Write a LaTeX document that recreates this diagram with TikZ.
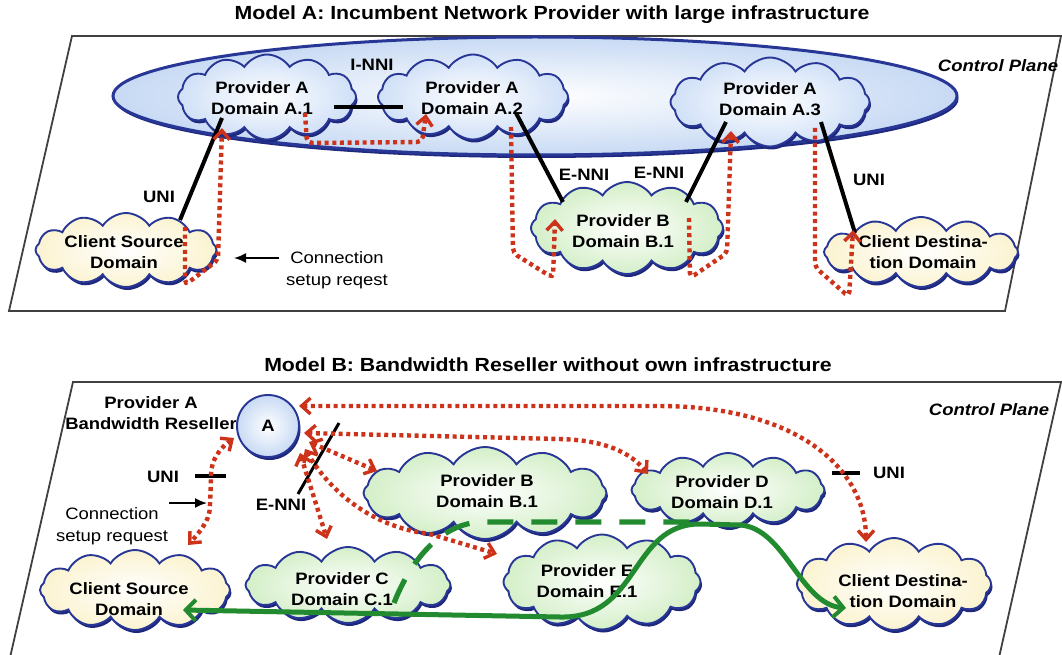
\documentclass[tikz,border=0pt]{standalone}
\usepackage{fontspec}
\setmainfont{Liberation Sans}[FakeStretch=1.12]
\usetikzlibrary{shapes.symbols,shapes.geometric,shadows,arrows.meta}
\definecolor{redc}{RGB}{204,51,26}
\definecolor{greenc}{RGB}{34,139,48}
\definecolor{cloudline}{RGB}{40,55,150}
\definecolor{shadowc}{RGB}{30,40,125}
\definecolor{ellfill}{RGB}{200,218,244}
\definecolor{bluefill}{RGB}{208,224,247}
\definecolor{greenfill}{RGB}{212,239,200}
\definecolor{yellowfill}{RGB}{251,243,208}
\tikzset{
  RedBarb/.tip={Straight Barb[length=9pt,width=16pt,line width=3.4pt]},
  GreenBarb/.tip={Straight Barb[length=10pt,width=21pt,line width=4pt]},
}
\begin{document}
\begin{tikzpicture}[x=1pt,y=-1pt,
  txt/.style={font=\bfseries\fontsize{16.5}{21.5}\selectfont, align=center, inner sep=0pt},
  plaintxt/.style={font=\fontsize{16.5}{22}\selectfont, align=center, inner sep=0pt},
  ttl/.style={font=\bfseries\fontsize{19}{23}\selectfont, inner sep=0pt},
  cpl/.style={font=\bfseries\itshape\fontsize{16.5}{20}\selectfont, inner sep=0pt},
  shad/.style={drop shadow={shadow xshift=1.5pt, shadow yshift=-3pt, fill=shadowc, opacity=1}},
  cld/.style={cloud, cloud puffs=12, cloud puff arc=115, cloud ignores aspect,
    draw=cloudline, line width=1.9pt, inner sep=0pt, shad},
  cblue/.style={cld, inner color=white, outer color=bluefill},
  cgreen/.style={cld, inner color=white, outer color=greenfill},
  cyellow/.style={cld, inner color=white, outer color=yellowfill},
  frm/.style={draw=black!75, line width=1.8pt},
  blk/.style={draw=black, line width=4pt},
  thinarrow/.style={draw=black, line width=1.8pt, -{Latex[length=12pt,width=10pt]}},
  reddot/.style={draw=redc, line width=4.4pt, dash pattern=on 4pt off 3.6pt, rounded corners=5pt},
  gsolid/.style={draw=greenc, line width=5pt},
  gdash/.style={draw=greenc, line width=5.2pt, dash pattern=on 26pt off 18pt},
]
\useasboundingbox (0,0) rectangle (1062,655);

% ---------------- Model A ----------------
\node[ttl] (tiA) at (552,15) {Model A: Incumbent Network Provider with large infrastructure};
\draw[frm] (72,36) -- (1061,36) -- (1005,311) -- (9,311) -- cycle;
\node[cpl] (cpA) at (998,66) {Control Plane};

\node[ellipse, minimum width=844pt, minimum height=118pt, draw=cloudline, line width=3pt,
      inner color=white, outer color=ellfill, shad] (cp) at (535,96) {};

\node[cblue, minimum width=178pt, minimum height=85pt] (cA1) at (267,97) {};
\node[cblue, minimum width=190pt, minimum height=85pt] (cA2) at (473,97) {};
\node[cblue, minimum width=199pt, minimum height=89pt] (cA3) at (770,102) {};
\node[cgreen, minimum width=192pt, minimum height=92pt] (cB1) at (627,228) {};
\node[cyellow, minimum width=181pt, minimum height=74pt] (cCS) at (126,250) {};
\node[cyellow, minimum width=194pt, minimum height=70pt] (cCD) at (921,252) {};

\node[txt] (tA1) at (262,98) {Provider A\\Domain A.1};
\node[txt] (tA2) at (472,98) {Provider A\\Domain A.2};
\node[txt] (tA3) at (770,99) {Provider A\\Domain A.3};
\node[txt] (tB1) at (623,231) {Provider B\\Domain B.1};
\node[txt] (tCS) at (124,252) {Client Source\\Domain};
\node[txt] (tCD) at (923,252) {Client Destina-\\tion Domain};

% interfaces
\coordinate (inA) at (334,107); \coordinate (inB) at (403,107);
\draw[blk] (inA) -- (inB);
\node[txt] (lINNI) at (372,65) {I-NNI};
\coordinate (u1a) at (180,220); \coordinate (u1b) at (222,118);
\draw[blk] (u1a) -- (u1b);
\node[txt] (lUNI1) at (159,197) {UNI};
\coordinate (e1a) at (516,113); \coordinate (e1b) at (563,202);
\draw[blk] (e1a) -- (e1b);
\node[txt] (lENNI1) at (584,175) {E-NNI};
\coordinate (e2a) at (686,202); \coordinate (e2b) at (726,122);
\draw[blk] (e2a) -- (e2b);
\node[txt] (lENNI2) at (659,173) {E-NNI};
\coordinate (u2a) at (821,122); \coordinate (u2b) at (855,233);
\draw[blk] (u2a) -- (u2b);
\node[txt] (lUNI2) at (869,180) {UNI};

\node[plaintxt] (lconA) at (337,270) {Connection\\setup reqest};
\coordinate (caS) at (279,258); \coordinate (caE) at (234,258);
\draw[thinarrow] (caS) -- (caE);

% signalling paths
\coordinate (r1s) at (185,227); \coordinate (r1e) at (222,128);
\draw[reddot, -{RedBarb}] (r1s) -- (185,285) -- (218,260) -- (r1e);
\coordinate (r2s) at (305,113); \coordinate (r2e) at (426,114);
\draw[reddot, -{RedBarb}] (r2s) -- (307,143) -- (422,142) -- (r2e);
\coordinate (r3s) at (511,127); \coordinate (r3e) at (555,219);
\draw[reddot, -{RedBarb}] (r3s) -- (513,253) -- (553,278) -- (r3e);
\coordinate (r4s) at (689,218); \coordinate (r4e) at (731,131);
\draw[reddot, -{RedBarb}] (r4s) -- (690,278) -- (727,253) -- (r4e);
\coordinate (r5s) at (815,128); \coordinate (r5e) at (853,230);
\draw[reddot, -{RedBarb}] (r5s) -- (815,267) -- (849,297) -- (r5e);

% ---------------- Model B ----------------
\node[ttl] (tiB) at (548,365) {Model B: Bandwidth Reseller without own infrastructure};
\draw[frm] (9,662) -- (73,382) -- (1061,382) -- (998,662);
\node[cpl] (cpB) at (989,410) {Control Plane};

\node[txt] (tPA) at (151,413) {Provider A\\Bandwidth Reseller};
\node[circle, minimum size=62pt, draw=cloudline, line width=1.9pt, inner color=white,
      outer color=ellfill, shad, txt] (ca) at (268,426) {A};

\node[cgreen, minimum width=243pt, minimum height=92pt] (bB) at (485,493) {};
\node[cgreen, minimum width=193pt, minimum height=74pt] (bD) at (728,490) {};
\node[cgreen, minimum width=197pt, minimum height=95pt] (bE) at (602,582) {};
\node[cgreen, minimum width=205pt, minimum height=76pt] (bC) at (348,585) {};
\node[cyellow, minimum width=190pt, minimum height=80pt] (bCS) at (135,590) {};
\node[cyellow, minimum width=194pt, minimum height=92pt] (bCD) at (894,584) {};

\node[txt] (tbB) at (487,491) {Provider B\\Domain B.1};
\node[txt] (tbD) at (722,492) {Provider D\\Domain D.1};
\node[txt] (tbE) at (587,581) {Provider E\\Domain E.1};
\node[txt] (tbC) at (342,589) {Provider C\\Domain C.1};
\node[txt] (tbCS) at (129,599) {Client Source\\Domain};
\node[txt] (tbCD) at (903,591) {Client Destina-\\tion Domain};

% interfaces
\coordinate (bu1a) at (195,476); \coordinate (bu1b) at (226,476);
\draw[blk] (bu1a) -- (bu1b);
\node[txt] (lbUNI1) at (163,477) {UNI};
\coordinate (ben1) at (339,423); \coordinate (ben2) at (298,494);
\draw[blk, line width=3pt] (ben1) -- (ben2);
\node[txt] (lbENNI) at (281,505) {E-NNI};
\coordinate (bu2a) at (832,473); \coordinate (bu2b) at (860,473);
\draw[blk] (bu2a) -- (bu2b);
\node[txt] (lbUNI2) at (889,473) {UNI};

\node[plaintxt] (lconB) at (112,526) {Connection\\setup request};
\coordinate (cbS) at (169,503); \coordinate (cbE) at (207,503);
\draw[thinarrow] (cbS) -- (cbE);

% signalling paths
\coordinate (su1) at (234,438); \coordinate (su2) at (188,545);
\draw[reddot, {RedBarb}-{RedBarb}] (su1) .. controls (220,448) and (211,460) .. (211,480)
   -- (210,505) .. controls (209,520) and (200,532) .. (su2);
\coordinate (st1) at (299,406); \coordinate (st2) at (866,542);
\draw[reddot, {RedBarb}-{RedBarb}] (st1) -- (660,406) .. controls (800,408) and (866,470) .. (st2);
\coordinate (sd1) at (304,433); \coordinate (sd2) at (648,474);
\draw[reddot, {RedBarb}-{RedBarb}] (sd1) -- (560,439) .. controls (605,441) and (630,452) .. (sd2);
\coordinate (sb1) at (309,442); \coordinate (sb2) at (377,471);
\draw[reddot, {RedBarb}-{RedBarb}] (sb1) -- (sb2);
\coordinate (sc1) at (300,453); \coordinate (sc2) at (327,539);
\draw[reddot, {RedBarb}-{RedBarb}] (sc1) -- (sc2);
\coordinate (se1) at (305,449); \coordinate (se2) at (497,554);
\draw[reddot, {RedBarb}-{RedBarb}] (se1) .. controls (335,500) and (380,527) .. (430,534) -- (se2);

% data path
\coordinate (g1) at (183,610); \coordinate (g2) at (846,608);
\draw[gsolid, {GreenBarb}-{GreenBarb}] (g1) -- (560,617) .. controls (640,619) and (630,524) .. (700,524)
   -- (740,525) .. controls (785,528) and (800,604) .. (g2);
\coordinate (gd1) at (394,603); \coordinate (gd2) at (692,522);
\draw[gdash] (gd1) .. controls (410,562) and (440,523) .. (482,522) -- (gd2);
\end{tikzpicture}
\end{document}
